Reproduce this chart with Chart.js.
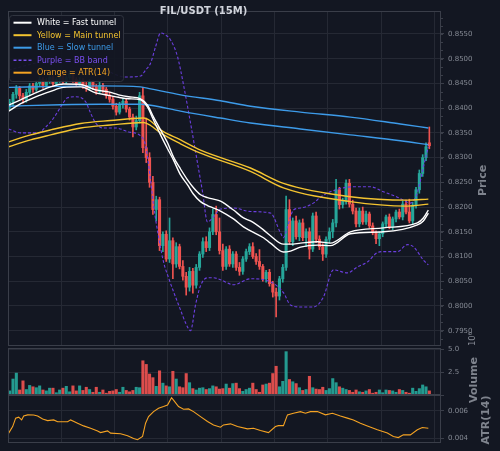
<!DOCTYPE html>
<html>
<head>
<meta charset="utf-8">
<title>FIL/USDT (15M)</title>
<script src="https://cdn.jsdelivr.net/npm/chart.js@4.4.1/dist/chart.umd.min.js"></script>
<style>
  html, body { margin: 0; padding: 0; background: #131722; }
  #wrap { position: relative; width: 500px; height: 451px; overflow: hidden; }
  #wrap canvas { position: absolute; left: 0; top: 0; }
</style>
</head>
<body>
<div id="wrap">
  <canvas id="priceChart" width="500" height="451"></canvas>
  <canvas id="volChart" width="500" height="451"></canvas>
  <canvas id="atrChart" width="500" height="451"></canvas>
</div>
<script>
'use strict';

/* ---- candles (15m, oldest first) ---- */
const openP = [
  0.8402,0.8412,0.8428,0.8440,0.8425,0.8418,0.8432,0.8445,0.8438,0.8450,
  0.8458,0.8446,0.8455,0.8462,0.8450,0.8458,0.8466,0.8455,0.8462,0.8470,
  0.8458,0.8450,0.8456,0.8446,0.8440,0.8452,0.8444,0.8434,0.8446,0.8438,
  0.8426,0.8418,0.8404,0.8392,0.8408,0.8414,0.8398,0.8382,0.8362,0.8375,
  0.8425,0.8320,0.8300,0.8250,0.8195,0.8215,0.8122,0.8145,0.8095,0.8132,
  0.8085,0.8120,0.8080,0.8060,0.8038,0.8070,0.8042,0.8078,0.8105,0.8130,
  0.8118,0.8150,0.8185,0.8150,0.8112,0.8080,0.8115,0.8085,0.8105,0.8078,
  0.8070,0.8095,0.8110,0.8120,0.8100,0.8090,0.8080,0.8055,0.8068,0.8045,
  0.8028,0.8020,0.8055,0.8078,0.8195,0.8130,0.8172,0.8140,0.8168,0.8138,
  0.8150,0.8115,0.8182,0.8135,0.8120,0.8105,0.8135,0.8150,0.8168,0.8235,
  0.8205,0.8212,0.8248,0.8206,0.8192,0.8166,0.8192,0.8170,0.8186,0.8162,
  0.8148,0.8136,0.8146,0.8166,0.8180,0.8160,0.8176,0.8190,0.8180,0.8206,
  0.8190,0.8172,0.8204,0.8235,0.8268,0.8300,0.8330
];
const highP = [
  0.8418,0.8432,0.8446,0.8444,0.8430,0.8438,0.8450,0.8450,0.8456,0.8464,
  0.8462,0.8460,0.8468,0.8466,0.8462,0.8472,0.8470,0.8466,0.8476,0.8474,
  0.8462,0.8462,0.8460,0.8452,0.8458,0.8456,0.8448,0.8452,0.8450,0.8442,
  0.8432,0.8424,0.8410,0.8412,0.8420,0.8418,0.8402,0.8388,0.8384,0.8432,
  0.8442,0.8380,0.8310,0.8262,0.8222,0.8220,0.8150,0.8152,0.8178,0.8138,
  0.8128,0.8125,0.8092,0.8068,0.8078,0.8076,0.8084,0.8110,0.8138,0.8140,
  0.8158,0.8196,0.8202,0.8178,0.8125,0.8120,0.8122,0.8110,0.8110,0.8088,
  0.8100,0.8115,0.8126,0.8128,0.8106,0.8114,0.8084,0.8072,0.8074,0.8050,
  0.8036,0.8060,0.8084,0.8222,0.8215,0.8178,0.8182,0.8174,0.8176,0.8156,
  0.8158,0.8188,0.8190,0.8142,0.8126,0.8140,0.8158,0.8175,0.8256,0.8240,
  0.8218,0.8255,0.8256,0.8214,0.8198,0.8198,0.8200,0.8192,0.8190,0.8168,
  0.8152,0.8150,0.8170,0.8184,0.8186,0.8180,0.8194,0.8196,0.8212,0.8214,
  0.8216,0.8210,0.8240,0.8275,0.8306,0.8330,0.8362
];
const lowP = [
  0.8395,0.8405,0.8420,0.8418,0.8410,0.8412,0.8426,0.8432,0.8434,0.8444,
  0.8440,0.8442,0.8450,0.8445,0.8446,0.8452,0.8450,0.8450,0.8458,0.8452,
  0.8444,0.8446,0.8440,0.8434,0.8436,0.8438,0.8428,0.8430,0.8432,0.8420,
  0.8412,0.8398,0.8386,0.8388,0.8400,0.8392,0.8376,0.8342,0.8356,0.8370,
  0.8310,0.8290,0.8240,0.8185,0.8172,0.8112,0.8110,0.8090,0.8088,0.8055,
  0.8078,0.8075,0.8052,0.8022,0.8030,0.8026,0.8036,0.8072,0.8098,0.8110,
  0.8112,0.8144,0.8144,0.8105,0.8072,0.8074,0.8080,0.8078,0.8072,0.8062,
  0.8064,0.8090,0.8104,0.8096,0.8084,0.8074,0.8050,0.8048,0.8040,0.8018,
  0.7978,0.8012,0.8048,0.8072,0.8125,0.8122,0.8135,0.8132,0.8132,0.8120,
  0.8095,0.8110,0.8128,0.8114,0.8092,0.8098,0.8128,0.8138,0.8160,0.8196,
  0.8198,0.8206,0.8200,0.8186,0.8160,0.8160,0.8165,0.8165,0.8158,0.8144,
  0.8126,0.8122,0.8140,0.8160,0.8156,0.8154,0.8170,0.8176,0.8174,0.8186,
  0.8168,0.8166,0.8198,0.8228,0.8262,0.8294,0.8318
];
const closeP = [
  0.8412,0.8428,0.8440,0.8425,0.8418,0.8432,0.8445,0.8438,0.8450,0.8458,
  0.8446,0.8455,0.8462,0.8450,0.8458,0.8466,0.8455,0.8462,0.8470,0.8458,
  0.8450,0.8456,0.8446,0.8440,0.8452,0.8444,0.8434,0.8446,0.8438,0.8426,
  0.8418,0.8404,0.8392,0.8408,0.8414,0.8398,0.8382,0.8362,0.8375,0.8425,
  0.8320,0.8300,0.8250,0.8195,0.8215,0.8122,0.8145,0.8095,0.8132,0.8085,
  0.8120,0.8080,0.8060,0.8038,0.8070,0.8042,0.8078,0.8105,0.8130,0.8118,
  0.8150,0.8185,0.8150,0.8112,0.8080,0.8115,0.8085,0.8105,0.8078,0.8070,
  0.8095,0.8110,0.8120,0.8100,0.8090,0.8080,0.8055,0.8068,0.8045,0.8028,
  0.8020,0.8055,0.8078,0.8195,0.8130,0.8172,0.8140,0.8168,0.8138,0.8150,
  0.8115,0.8182,0.8135,0.8120,0.8105,0.8135,0.8150,0.8168,0.8235,0.8205,
  0.8212,0.8248,0.8206,0.8192,0.8166,0.8192,0.8170,0.8186,0.8162,0.8148,
  0.8136,0.8146,0.8166,0.8180,0.8160,0.8176,0.8190,0.8180,0.8206,0.8190,
  0.8172,0.8204,0.8235,0.8268,0.8300,0.8322,0.8324
];
// volume in millions (axis offset 10^6)
const volumeM = [
  0.45,1.75,2.4,0.55,1.55,0.6,1.05,0.9,0.8,1.0,
  0.55,0.45,0.75,0.75,0.25,0.55,0.75,0.95,0.35,1.0,
  0.45,1.0,0.5,0.85,0.6,0.3,0.85,0.3,0.55,0.2,
  0.4,0.45,0.6,0.3,0.85,0.5,0.35,0.5,0.85,0.8,
  3.75,3.35,2.3,1.9,0.95,2.65,1.3,1.0,0.9,2.6,
  1.75,0.9,0.8,2.35,1.35,0.7,0.55,0.75,0.8,0.6,
  0.7,1.0,0.9,0.65,0.7,1.2,0.75,1.25,1.3,0.7,
  0.4,0.6,0.75,1.3,0.6,0.3,1.1,1.2,1.3,2.35,
  3.15,0.9,1.5,4.75,1.7,1.45,1.25,0.8,0.5,0.6,
  2.05,0.8,0.65,0.6,0.85,0.5,0.7,1.8,1.35,0.9,
  0.75,0.6,0.5,0.3,0.55,0.35,0.3,0.45,0.6,0.2,
  0.3,0.55,0.25,0.55,0.5,0.45,0.3,0.6,0.5,0.3,
  0.2,0.75,0.4,0.7,1.1,0.9,0.45
];

/* ---- overlays, read at candle positions ---- */
const fastIdx = [0.2,3.8,8.3,12.8,16.7,21.8,26.3,30.2,33.2,36.2,39.8,41.9,43.7,45.8,47.9,49.7,51.8,53.9,55.7,57.8,59.9,61.7,63.8,67.7,70.7,72.8,76.7,78.8,82.7,84.8,87.8,92.9,96.8,102.8,112.7,122.9,124.7,126.2];
const fastUpper = [0.8406,0.8417,0.8431,0.8443,0.8449,0.8448,0.8437,0.8433,0.8427,0.8423,0.8419,0.8406,0.8382,0.8356,0.8330,0.8301,0.8277,0.8255,0.8239,0.8225,0.8219,0.8216,0.8212,0.8194,0.8178,0.8172,0.8154,0.8142,0.8125,0.8125,0.8127,0.8130,0.8127,0.8150,0.8158,0.8168,0.8178,0.8194];
const fastLower = [0.8394,0.8409,0.8423,0.8434,0.8442,0.8443,0.8431,0.8426,0.8422,0.8419,0.8417,0.8402,0.8376,0.8346,0.8318,0.8295,0.8265,0.8245,0.8226,0.8211,0.8203,0.8198,0.8192,0.8176,0.8160,0.8152,0.8138,0.8127,0.8109,0.8111,0.8119,0.8123,0.8122,0.8146,0.8150,0.8164,0.8172,0.8188];

const mainIdx = [0.2,6.8,12.8,21.8,30.8,40.7,42.8,45.8,51.8,57.8,72.8,82.7,102.8,119.9,126.2];
const mainUpper = [0.8332,0.8346,0.8356,0.8369,0.8375,0.8380,0.8374,0.8356,0.8336,0.8315,0.8279,0.8248,0.8221,0.8214,0.8216];
const mainLower = [0.8322,0.8336,0.8346,0.8360,0.8366,0.8371,0.8365,0.8350,0.8328,0.8309,0.8272,0.8239,0.8211,0.8202,0.8206];

const slowIdx = [0.2,15.8,27.8,39.8,42.8,51.8,63.8,72.8,87.8,102.8,117.8,126.2];
const slowUpper = [0.8442,0.8444,0.8445,0.8443,0.8439,0.8427,0.8415,0.8404,0.8392,0.8382,0.8368,0.8360];
const slowLower = [0.8404,0.8407,0.8408,0.8408,0.8406,0.8394,0.8380,0.8370,0.8358,0.8346,0.8334,0.8326];

const bbUpIdx = [0.2,9.8,18.8,27.8,35.3,39.8,41.3,42.8,44.3,45.8,47.3,48.8,50.9,52.7,54.8,56.9,58.4,59.9,61.7,63.8,67.7,72.8,78.8,81.8,82.7,83.9,85.7,87.8,91.7,93.8,96.8,103.7,108.8,112.7,116.9,118.7,120.8,122.9,124.7,126.2];
const bbUpper = [0.8477,0.8493,0.8497,0.8481,0.8463,0.8465,0.8477,0.8491,0.8524,0.8552,0.8548,0.8538,0.8504,0.8447,0.8370,0.8289,0.8231,0.8170,0.8180,0.8196,0.8198,0.8191,0.8188,0.8148,0.8138,0.8160,0.8194,0.8198,0.8208,0.8220,0.8231,0.8241,0.8241,0.8231,0.8220,0.8214,0.8208,0.8229,0.8281,0.8322];
const bbLoIdx = [0.2,3.8,9.2,11.3,12.8,14.3,16.4,17.9,20.3,23.3,24.8,26.3,28.4,32.3,36.2,39.8,41.3,42.8,43.7,45.2,46.7,48.2,49.7,51.8,53.3,54.8,56.3,57.8,59.9,61.7,63.8,67.7,72.8,78.8,82.7,84.8,87.8,91.7,94.7,97.7,101.9,104.9,107.9,110.9,112.7,116.9,119.9,121.7,124.7,126.2];
const bbLower = [0.8358,0.8350,0.8350,0.8362,0.8372,0.8386,0.8409,0.8421,0.8423,0.8413,0.8390,0.8370,0.8360,0.8360,0.8352,0.8344,0.8324,0.8255,0.8204,0.8140,0.8089,0.8057,0.8029,0.7992,0.7966,0.7950,0.8002,0.8041,0.8057,0.8057,0.8053,0.8043,0.8055,0.8049,0.8027,0.8002,0.7998,0.7998,0.8018,0.8073,0.8067,0.8079,0.8089,0.8108,0.8110,0.8110,0.8124,0.8120,0.8093,0.8083];

const atrIdx = [0.2,1.4,2.3,3.2,4.1,4.7,5.9,7.7,8.9,10.4,11.9,13.7,14.9,17.9,18.8,20.9,22.7,24.8,26.9,27.8,29.9,30.8,33.8,35.9,37.7,38.9,40.4,41.3,42.2,43.7,45.2,46.7,47.9,49.1,49.7,51.2,52.7,54.2,55.7,57.8,59.9,61.7,63.8,64.7,66.8,68.9,71.9,73.7,75.8,78.2,80.3,81.2,82.7,83.9,85.7,87.8,89.3,90.8,92.9,95.3,97.4,99.8,101.9,103.7,105.8,107.9,110.9,113.9,115.7,117.2,118.7,120.8,122.9,124.4,126.2];
const atrVal = [0.00437,0.00485,0.00547,0.00554,0.00534,0.00563,0.00571,0.00570,0.00563,0.00540,0.00529,0.00534,0.00520,0.00520,0.00534,0.00510,0.00490,0.00473,0.00453,0.00441,0.00453,0.00437,0.00432,0.00417,0.00397,0.00388,0.00412,0.00510,0.00558,0.00595,0.00620,0.00632,0.00644,0.00697,0.00680,0.00632,0.00612,0.00615,0.00595,0.00558,0.00522,0.00497,0.00480,0.00497,0.00505,0.00485,0.00468,0.00473,0.00456,0.00441,0.00485,0.00492,0.00492,0.00571,0.00583,0.00595,0.00583,0.00595,0.00595,0.00571,0.00583,0.00563,0.00547,0.00534,0.00510,0.00490,0.00461,0.00437,0.00412,0.00404,0.00424,0.00424,0.00461,0.00478,0.00473];

/* ---- look ---- */
const FONT = "'DejaVu Sans', 'Liberation Sans', sans-serif";
const FRAME = '#3a3e49';
const GRID = '#252934';
const TICK_TXT = '#858a94';
const LABEL_TXT = '#7f848e';
const UP = '#26a69a', DOWN = '#ef5350';
const WHITE = '#ffffff', YELLOW = '#f4c430', BLUE = '#3d9be9', PURPLE = '#6c3fe0', ORANGE = '#f5a323';

const X_MAX = 130, AXIS_W = 59, PLOT_LEFT = 8;

const isUp = closeP.map((c, i) => c >= openP[i]);
const candleColor = isUp.map(u => u ? UP : DOWN);
const volColor = isUp.map(u => u ? 'rgba(38,166,154,0.92)' : 'rgba(239,83,80,0.92)');

function xScale() {
  return {
    type: 'linear', min: 0, max: X_MAX, offset: false,
    ticks: { display: false, stepSize: 16, includeBounds: false },
    grid: { color: GRID, drawTicks: false, offset: false },
    border: { display: false },
    afterFit(s) { s.height = 0; }
  };
}

function yScale(min, max, step, fmt) {
  return {
    position: 'right', min, max,
    ticks: { stepSize: step, includeBounds: false, color: TICK_TXT, font: { family: FONT, size: 7 }, padding: 4, callback: fmt },
    grid: { color: GRID, tickColor: FRAME, tickLength: 3 },
    border: { display: false },
    afterFit(s) { s.width = AXIS_W; }
  };
}

function lineDs(idx, vals, color, width, dash, order, smooth) {
  return {
    type: 'line', data: idx.map((x, k) => ({ x, y: vals[k] })),
    borderColor: color, borderWidth: width, borderDash: dash || [],
    pointRadius: 0, fill: false, order,
    tension: smooth ? 0.3 : 0, cubicInterpolationMode: smooth ? 'monotone' : 'default'
  };
}

const framePlugin = {
  id: 'frame',
  afterDraw(chart) {
    const { ctx, chartArea: a } = chart;
    ctx.save();
    ctx.strokeStyle = FRAME; ctx.lineWidth = 1;
    ctx.strokeRect(Math.round(a.left) + 0.5, Math.round(a.top) + 0.5,
      Math.round(a.right - a.left) - 1, Math.round(a.bottom - a.top) - 1);
    ctx.restore();
  }
};

function vText(ctx, text, x, y, font, color) {
  ctx.save();
  ctx.translate(x, y); ctx.rotate(-Math.PI / 2);
  ctx.font = font; ctx.fillStyle = color;
  ctx.textAlign = 'center'; ctx.textBaseline = 'middle';
  ctx.fillText(text, 0, 0);
  ctx.restore();
}

const LEGEND = [
  { text: 'White = Fast tunnel', color: WHITE, dash: [] },
  { text: 'Yellow = Main tunnel', color: YELLOW, dash: [] },
  { text: 'Blue = Slow tunnel', color: BLUE, dash: [] },
  { text: 'Purple = BB band', color: '#7a4ff0', dash: [3, 2] },
  { text: 'Orange = ATR(14)', color: ORANGE, dash: [] }
];

const priceDecor = {
  id: 'priceDecor',
  afterDraw(chart) {
    const { ctx, chartArea: a } = chart;
    const ys = chart.scales.y;
    ctx.save();
    // minor ticks on price axis
    ctx.strokeStyle = FRAME; ctx.lineWidth = 1;
    ctx.beginPath();
    for (let k = 0; k < 60; k++) {
      const v = 0.79 + k * 0.005 / 3;
      if (v < ys.min || v > ys.max) continue;
      const py = Math.round(ys.getPixelForValue(v)) + 0.5;
      ctx.moveTo(a.right, py); ctx.lineTo(a.right + 2, py);
    }
    ctx.stroke();

    // legend box
    const bx = 9.5, by = 15.5, bw = 114, bh = 66, r = 3;
    ctx.beginPath();
    ctx.moveTo(bx + r, by); ctx.lineTo(bx + bw - r, by); ctx.quadraticCurveTo(bx + bw, by, bx + bw, by + r);
    ctx.lineTo(bx + bw, by + bh - r); ctx.quadraticCurveTo(bx + bw, by + bh, bx + bw - r, by + bh);
    ctx.lineTo(bx + r, by + bh); ctx.quadraticCurveTo(bx, by + bh, bx, by + bh - r);
    ctx.lineTo(bx, by + r); ctx.quadraticCurveTo(bx, by, bx + r, by);
    ctx.fillStyle = 'rgba(19,23,34,0.93)'; ctx.fill();
    ctx.strokeStyle = '#30343f'; ctx.stroke();
    ctx.font = '8px ' + FONT; ctx.textBaseline = 'middle'; ctx.textAlign = 'left';
    LEGEND.forEach((it, k) => {
      const y = 22.7 + k * 12.5;
      ctx.beginPath(); ctx.setLineDash(it.dash);
      ctx.strokeStyle = it.color; ctx.lineWidth = it.dash.length ? 1.4 : 2;
      ctx.moveTo(13.5, y); ctx.lineTo(31.5, y); ctx.stroke();
      ctx.setLineDash([]);
      ctx.fillStyle = it.color; ctx.fillText(it.text, 37, y + 0.5);
    });

    // title and axis label
    ctx.font = 'bold 10px ' + FONT; ctx.fillStyle = '#d1d4dc';
    ctx.textAlign = 'center'; ctx.textBaseline = 'middle';
    ctx.fillText('FIL/USDT (15M)', 203.5, 11);
    vText(ctx, 'Price', 483.5, 180.5, 'bold 11px ' + FONT, LABEL_TXT);
    ctx.restore();
  }
};

const volDecor = {
  id: 'volDecor',
  afterDraw(chart) {
    const ctx = chart.ctx;
    vText(ctx, 'Volume', 474, 380, 'bold 11px ' + FONT, LABEL_TXT);
    vText(ctx, '10\u2076', 473, 339, '8.5px ' + FONT, TICK_TXT);
  }
};

const atrDecor = {
  id: 'atrDecor',
  afterDraw(chart) {
    vText(chart.ctx, 'ATR(14)', 486, 420, 'bold 11px ' + FONT, LABEL_TXT);
  }
};

const common = {
  responsive: false, animation: false, events: [], devicePixelRatio: 1,
  plugins: { legend: { display: false }, tooltip: { enabled: false }, title: { display: false } }
};

/* ---- price panel ---- */
new Chart(document.getElementById('priceChart'), {
  type: 'bar',
  data: {
    datasets: [
      { label: 'wick', data: closeP.map((c, i) => ({ x: i + 0.5, y: [lowP[i], highP[i]] })),
        backgroundColor: candleColor, barThickness: 1, grouped: false, order: 30 },
      { label: 'body', data: closeP.map((c, i) => ({ x: i + 0.5, y: [openP[i], c] })),
        backgroundColor: candleColor, barThickness: 2.4, minBarLength: 1, grouped: false, order: 29 },
      lineDs(bbUpIdx, bbUpper, PURPLE, 1.1, [3, 2], 6, true),
      lineDs(bbLoIdx, bbLower, PURPLE, 1.1, [3, 2], 6, true),
      lineDs(slowIdx, slowUpper, BLUE, 1.4, null, 5, true),
      lineDs(slowIdx, slowLower, BLUE, 1.4, null, 5, true),
      lineDs(mainIdx, mainUpper, YELLOW, 1.4, null, 4, true),
      lineDs(mainIdx, mainLower, YELLOW, 1.4, null, 4, true),
      lineDs(fastIdx, fastUpper, WHITE, 1.4, null, 3, true),
      lineDs(fastIdx, fastLower, WHITE, 1.4, null, 3, true)
    ]
  },
  options: Object.assign({}, common, {
    layout: { padding: { left: PLOT_LEFT, right: 0, top: 11, bottom: 105 } },
    scales: {
      x: xScale(),
      y: yScale(0.791906, 0.859651, 0.005, v => v.toFixed(4))
    }
  }),
  plugins: [framePlugin, priceDecor]
});

/* ---- volume panel ---- */
new Chart(document.getElementById('volChart'), {
  type: 'bar',
  data: {
    datasets: [{
      label: 'Volume', data: volumeM.map((v, i) => ({ x: i + 0.5, y: v })),
      backgroundColor: volColor, barThickness: 2.4, grouped: false
    }]
  },
  options: Object.assign({}, common, {
    layout: { padding: { left: PLOT_LEFT, right: 0, top: 348, bottom: 56 } },
    scales: {
      x: xScale(),
      y: yScale(0, 5.15, 2.5, v => (v === 0 ? '' : v.toFixed(1)))
    }
  }),
  plugins: [framePlugin, volDecor]
});

/* ---- ATR panel ---- */
new Chart(document.getElementById('atrChart'), {
  type: 'line',
  data: {
    datasets: [lineDs(atrIdx, atrVal, ORANGE, 1.1, null, 1, false)]
  },
  options: Object.assign({}, common, {
    layout: { padding: { left: PLOT_LEFT, right: 0, top: 395, bottom: 8 } },
    scales: {
      x: xScale(),
      y: yScale(0.003656, 0.007172, 0.002, v => v.toFixed(3))
    }
  }),
  plugins: [framePlugin, atrDecor]
});
</script>
</body>
</html>
